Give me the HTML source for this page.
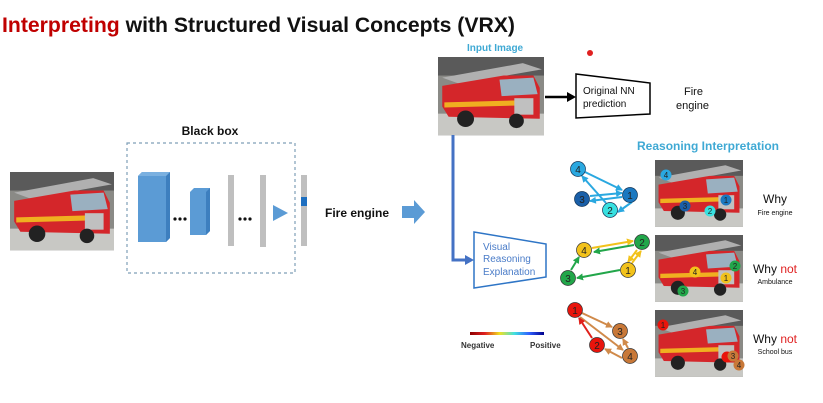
<!DOCTYPE html>
<html><head><meta charset="utf-8"><style>
html,body{margin:0;padding:0;background:#fff;}
svg{display:block;font-family:"Liberation Sans",sans-serif;}
</style></head><body>
<svg width="823" height="403" viewBox="0 0 823 403" xmlns="http://www.w3.org/2000/svg">
<defs>
<marker id="m1" markerWidth="7" markerHeight="7" refX="6" refY="3.5" orient="auto" markerUnits="userSpaceOnUse"><path d="M0,0 L7,3.5 L0,7 z" fill="#2aa8e0"/></marker>
<marker id="m2" markerWidth="7" markerHeight="7" refX="6" refY="3.5" orient="auto" markerUnits="userSpaceOnUse"><path d="M0,0 L7,3.5 L0,7 z" fill="#f2c21b"/></marker>
<marker id="m3" markerWidth="7" markerHeight="7" refX="6" refY="3.5" orient="auto" markerUnits="userSpaceOnUse"><path d="M0,0 L7,3.5 L0,7 z" fill="#22a64a"/></marker>
<marker id="m4" markerWidth="7" markerHeight="7" refX="6" refY="3.5" orient="auto" markerUnits="userSpaceOnUse"><path d="M0,0 L7,3.5 L0,7 z" fill="#d08a4a"/></marker>
<marker id="m5" markerWidth="7" markerHeight="7" refX="6" refY="3.5" orient="auto" markerUnits="userSpaceOnUse"><path d="M0,0 L7,3.5 L0,7 z" fill="#e0201a"/></marker>
<linearGradient id="cb" x1="0" x2="1"><stop offset="0" stop-color="#8b0000"/><stop offset=".2" stop-color="#e02020"/><stop offset=".4" stop-color="#f0e020"/><stop offset=".6" stop-color="#40e0e0"/><stop offset=".8" stop-color="#3060ff"/><stop offset="1" stop-color="#00008b"/></linearGradient>
<g id="truck">
<rect x="0" y="0" width="100" height="76" fill="#8a8a86"/>
<rect x="0" y="0" width="100" height="18" fill="#5a5a5a"/>
<rect x="0" y="55" width="100" height="21" fill="#c8c8c4"/>
<path d="M4,20 L80,6 L98,12 L20,26 z" fill="#b0b0b0"/>
<path d="M4,28 L62,18 L90,18 L96,30 L96,60 L10,58 L4,48 z" fill="#d4262a"/>
<path d="M58,22 L90,20 L94,36 L60,38 z" fill="#9ab0c0"/>
<path d="M6,44 L80,42 L80,47 L6,49 z" fill="#f0b020"/>
<rect x="72" y="40" width="18" height="16" fill="#c0c0c0"/>
<circle cx="26" cy="60" r="8" fill="#222"/><circle cx="74" cy="62" r="7" fill="#222"/>
</g>
</defs>

<text x="2" y="32" font-size="21" font-weight="bold" textLength="513" lengthAdjust="spacingAndGlyphs"><tspan fill="#c00000">Interpreting</tspan><tspan fill="#111"> with Structured Visual Concepts (VRX)</tspan></text>

<use href="#truck" transform="translate(10,172) scale(1.04,1.03)"/>

<text x="210" y="135" font-size="12" font-weight="bold" text-anchor="middle" fill="#111">Black box</text>
<rect x="127" y="143" width="168" height="130" fill="none" stroke="#7f9fb8" stroke-width="1.2" stroke-dasharray="3,3"/>
<path d="M138,176 L142,172 L170,172 L170,238 L166,242 L138,242 z" fill="#5b9bd5"/>
<path d="M166,176 L170,172 L170,238 L166,242 z" fill="#3d7fbf"/>
<path d="M138,176 L142,172 L170,172 L166,176 z" fill="#7ab0e0"/>
<g fill="#111"><circle cx="175" cy="219" r="1.6"/><circle cx="180" cy="219" r="1.6"/><circle cx="185" cy="219" r="1.6"/>
<circle cx="240" cy="219" r="1.6"/><circle cx="245" cy="219" r="1.6"/><circle cx="250" cy="219" r="1.6"/></g>
<path d="M190,192 L194,188 L210,188 L210,231 L206,235 L190,235 z" fill="#5b9bd5"/>
<path d="M206,192 L210,188 L210,231 L206,235 z" fill="#3d7fbf"/>
<rect x="228" y="175" width="6" height="71" fill="#bfbfbf"/>
<rect x="260" y="175" width="6" height="72" fill="#bfbfbf"/>
<path d="M273,205 L288,213 L273,221 z" fill="#5b9bd5"/>
<rect x="301" y="175" width="6" height="71" fill="#bfbfbf"/>
<rect x="301" y="197" width="6" height="9" fill="#1e6fc0"/>
<text x="325" y="217" font-size="12" font-weight="bold" fill="#111">Fire engine</text>
<path d="M402,206 L414,206 L414,200 L425,212 L414,224 L414,218 L402,218 z" fill="#5b9bd5"/>

<text x="467" y="51" font-size="10" font-weight="bold" fill="#3fa9d4">Input Image</text>
<use href="#truck" transform="translate(438,57) scale(1.06,1.03)"/>
<circle cx="590" cy="53" r="3" fill="#e02020"/>
<line x1="545" y1="97" x2="570" y2="97" stroke="#000" stroke-width="2.5"/>
<path d="M567,92 L576,97 L567,102 z" fill="#000"/>
<path d="M576,74 L650,83 L650,114 L576,118 z" fill="#fff" stroke="#000" stroke-width="1.5"/>
<text x="583" y="94" font-size="10" fill="#111">Original NN</text>
<text x="583" y="107" font-size="10" fill="#111">prediction</text>
<text x="684" y="95" font-size="11" fill="#111">Fire</text>
<text x="676" y="109" font-size="11" fill="#111">engine</text>

<path d="M453,135 L453,260 L466,260" fill="none" stroke="#4472c4" stroke-width="3"/>
<path d="M465,255 L474,260 L465,265 z" fill="#4472c4"/>
<path d="M474,232 L546,244 L546,277 L474,288 z" fill="#fff" stroke="#2e75c6" stroke-width="1.5"/>
<text x="483" y="250" font-size="10" fill="#4a7cc8">Visual</text>
<text x="483" y="262" font-size="10" fill="#4a7cc8">Reasoning</text>
<text x="483" y="275" font-size="10" fill="#4a7cc8">Explanation</text>

<rect x="470" y="332" width="74" height="3" fill="url(#cb)"/>
<text x="461" y="348" font-size="8" font-weight="bold" fill="#333">Negative</text>
<text x="530" y="348" font-size="8" font-weight="bold" fill="#333">Positive</text>

<text x="637" y="150" font-size="12" font-weight="bold" fill="#3fa9d4">Reasoning Interpretation</text>

<use href="#truck" transform="translate(655,160) scale(0.88,0.88)"/>
<use href="#truck" transform="translate(655,235) scale(0.88,0.88)"/>
<use href="#truck" transform="translate(655,310) scale(0.88,0.88)"/>

<text x="775" y="203" font-size="12" fill="#111" text-anchor="middle">Why</text>
<text x="775" y="215" font-size="7" fill="#111" text-anchor="middle">Fire engine</text>
<text x="775" y="273" font-size="12" fill="#111" text-anchor="middle">Why <tspan fill="#e02020">not</tspan></text>
<text x="775" y="284" font-size="7" fill="#111" text-anchor="middle">Ambulance</text>
<text x="775" y="343" font-size="12" fill="#111" text-anchor="middle">Why <tspan fill="#e02020">not</tspan></text>
<text x="775" y="354" font-size="7" fill="#111" text-anchor="middle">School bus</text>

<g font-size="10" text-anchor="middle" fill="#222">
<g stroke="#2aa8e0" stroke-width="2" fill="none">
<line x1="585" y1="172" x2="622" y2="190" marker-end="url(#m1)"/>
<line x1="606" y1="203" x2="582" y2="176" marker-end="url(#m1)"/>
<line x1="590" y1="196" x2="622" y2="193" marker-end="url(#m1)"/>
<line x1="622" y1="197" x2="590" y2="201" marker-end="url(#m1)"/>
<line x1="632" y1="202" x2="618" y2="212" marker-end="url(#m1)"/>
</g>
<circle cx="578" cy="169" r="7.5" fill="#2aa8e0" stroke="#135" stroke-width=".7"/><text x="578" y="173">4</text>
<circle cx="582" cy="199" r="7.5" fill="#1a5fa8" stroke="#135" stroke-width=".7"/><text x="582" y="203">3</text>
<circle cx="630" cy="195" r="7.5" fill="#1a78c0" stroke="#135" stroke-width=".7"/><text x="630" y="199">1</text>
<circle cx="610" cy="210" r="7.5" fill="#38e0e0" stroke="#135" stroke-width=".7"/><text x="610" y="214">2</text>
<g stroke-width="2" fill="none">
<line x1="592" y1="248" x2="633" y2="241" stroke="#f2c21b" marker-end="url(#m2)"/>
<line x1="634" y1="245" x2="594" y2="252" stroke="#22a64a" marker-end="url(#m3)"/>
<line x1="637" y1="250" x2="628" y2="262" stroke="#f2c21b" marker-end="url(#m2)"/>
<line x1="632" y1="263" x2="641" y2="251" stroke="#f2c21b" marker-end="url(#m2)"/>
<line x1="620" y1="270" x2="577" y2="278" stroke="#22a64a" marker-end="url(#m3)"/>
<line x1="571" y1="270" x2="579" y2="257" stroke="#22a64a" marker-end="url(#m3)"/>
</g>
<circle cx="584" cy="250" r="7.5" fill="#f2c21b" stroke="#333" stroke-width=".7"/><text x="584" y="254">4</text>
<circle cx="642" cy="242" r="7.5" fill="#22a64a" stroke="#333" stroke-width=".7"/><text x="642" y="246">2</text>
<circle cx="628" cy="270" r="7.5" fill="#f2c21b" stroke="#333" stroke-width=".7"/><text x="628" y="274">1</text>
<circle cx="568" cy="278" r="7.5" fill="#22a64a" stroke="#333" stroke-width=".7"/><text x="568" y="282">3</text>
<g stroke-width="2" fill="none">
<line x1="582" y1="313" x2="612" y2="327" stroke="#d08a4a" marker-end="url(#m4)"/>
<line x1="580" y1="317" x2="623" y2="350" stroke="#d08a4a" marker-end="url(#m4)"/>
<line x1="592" y1="338" x2="579" y2="318" stroke="#e0201a" marker-end="url(#m5)"/>
<line x1="628" y1="348" x2="623" y2="339" stroke="#d08a4a" marker-end="url(#m4)"/>
<line x1="622" y1="358" x2="605" y2="349" stroke="#d08a4a" marker-end="url(#m4)"/>
</g>
<circle cx="575" cy="310" r="7.5" fill="#e8140c" stroke="#333" stroke-width=".7"/><text x="575" y="314">1</text>
<circle cx="620" cy="331" r="7.5" fill="#c87838" stroke="#333" stroke-width=".7"/><text x="620" y="335">3</text>
<circle cx="597" cy="345" r="7.5" fill="#e8140c" stroke="#333" stroke-width=".7"/><text x="597" y="349">2</text>
<circle cx="630" cy="356" r="7.5" fill="#c87838" stroke="#333" stroke-width=".7"/><text x="630" y="360">4</text>
</g>

<g font-size="8" text-anchor="middle" fill="#222">
<circle cx="666" cy="175" r="5.5" fill="#2aa8e0"/><text x="666" y="178">4</text>
<circle cx="685" cy="206" r="5.5" fill="#1a5fa8"/><text x="685" y="209">3</text>
<circle cx="726" cy="200" r="5.5" fill="#1a78c0"/><text x="726" y="203">1</text>
<circle cx="710" cy="211" r="5.5" fill="#38e0e0"/><text x="710" y="214">2</text>
<circle cx="735" cy="266" r="5.5" fill="#22a64a"/><text x="735" y="269">2</text>
<circle cx="695" cy="272" r="5.5" fill="#f2c21b"/><text x="695" y="275">4</text>
<circle cx="726" cy="278" r="5.5" fill="#f2c21b"/><text x="726" y="281">1</text>
<circle cx="683" cy="291" r="5.5" fill="#22a64a"/><text x="683" y="294">3</text>
<circle cx="663" cy="325" r="5.5" fill="#e8140c"/><text x="663" y="328">1</text>
<circle cx="727" cy="357" r="5.5" fill="#e8140c"/>
<circle cx="733" cy="356" r="5.5" fill="#c87838"/><text x="733" y="359">3</text>
<circle cx="739" cy="365" r="5.5" fill="#c87838"/><text x="739" y="368">4</text>
</g>
</svg>
</body></html>
